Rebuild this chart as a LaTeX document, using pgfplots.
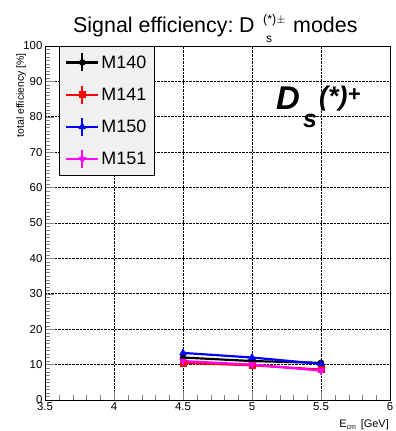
\documentclass[border=0pt]{standalone}
\usepackage{pgfplots}
\pgfplotsset{compat=1.18}
\usepackage{fontspec}
\setmainfont{Liberation Sans}
\definecolor{legfill}{RGB}{240,240,240}
\definecolor{mag}{RGB}{255,0,255}
\begin{document}
\begin{tikzpicture}[x=1bp,y=1bp]
\path[use as bounding box] (0,0) rectangle (396,431);
\begin{axis}[
  at={(45bp,31bp)}, anchor=south west,
  scale only axis, width=345bp, height=354bp,
  xmin=3.5, xmax=6, ymin=0, ymax=100,
  xtick={3.5,4,4.5,5,5.5,6},
  xticklabels={3.5,4,4.5,5,5.5,6},
  ytick={0,10,...,100},
  minor x tick num=4, minor y tick num=9,
  tick align=inside,
  xtick pos=bottom, ytick pos=left,
  major tick length=9bp, minor tick length=4.5bp,
  grid=major,
  major grid style={black, densely dotted, line width=0.6pt},
  axis line style={black, line width=0.8pt},
  /pgf/number format/assume math mode=true,
  ticklabel style={font=\fontsize{11.5}{13}\selectfont},
  xticklabel style={yshift=1bp},
  yticklabel style={xshift=1bp},
  legend style={at={(rel axis cs:0.04,1.0)}, anchor=north west,
    fill=legfill, draw=black, line width=0.8pt,
    font=\fontsize{18}{20}\selectfont, row sep=12bp,
    inner xsep=6bp, inner ysep=6bp, cells={anchor=west}},
  legend image code/.code={
    \draw[#1, mark=none] (0bp,0bp) -- (32bp,0bp);
    \draw[#1, mark=none] (16bp,-9bp) -- (16bp,9bp);
    \draw[#1] plot coordinates {(16bp,0bp)};
  },
  every axis plot/.append style={line width=2.2pt},
  error bars/y dir=both, error bars/y explicit,
  error bars/error bar style={line width=1.6pt},
  error bars/error mark=none,
  clip=false,
]
\addplot[black, mark=*, mark size=3pt, mark options={solid, line width=0.5pt}] coordinates {(4.5,12.0) +- (0,0.8) (5,11.0) +- (0,0.8) (5.5,10.5) +- (0,0.8)};
\addlegendentry{M140\hspace{20bp}}
\addplot[red, mark=square*, mark size=3pt, mark options={line width=0.5pt}] coordinates {(4.5,10.5) +- (0,1.2) (5,9.8) +- (0,0.9) (5.5,8.6) +- (0,1.0)};
\addlegendentry{M141}
\addplot[blue, mark=triangle*, mark size=4pt, mark options={line width=0.5pt}] coordinates {(4.5,13.3) +- (0,0.8) (5,12.0) +- (0,0.8) (5.5,10.2) +- (0,0.8)};
\addlegendentry{M150}
\addplot[mag, mark=triangle*, mark size=4pt, mark options={rotate=180, line width=0.5pt}] coordinates {(4.5,11.0) +- (0,0.8) (5,10.0) +- (0,0.8) (5.5,8.3) +- (0,0.9)};
\addlegendentry{M151}
\end{axis}
% title
\node[anchor=base west, inner sep=0pt] at (73,398) {\fontsize{21.5}{23}\selectfont Signal efficiency:};
\node[anchor=base west, inner sep=0pt] at (239,398) {\fontsize{21.5}{23}\selectfont D};
\node[anchor=base west, inner sep=0pt] at (266,388) {\fontsize{12}{13}\selectfont s};
\node[anchor=base west, inner sep=0pt] at (263,407) {\fontsize{12.5}{13}\selectfont (*)$\pm$};
\node[anchor=base west, inner sep=0pt] at (293,398) {\fontsize{21.5}{23}\selectfont modes};
% axis labels
\node[rotate=90, anchor=north east, inner sep=0pt] at (16,378) {\fontsize{10.5}{12}\selectfont total efficiency [\%]};
\node[anchor=base east, inner sep=0pt] at (389,4) {\fontsize{11}{12}\selectfont E\raisebox{-2.5bp}{\fontsize{7}{8}\selectfont cm}\, [GeV]};
% D_s label
\node[anchor=base west, inner sep=0pt] at (276,322) {\fontsize{33}{36}\selectfont\bfseries\itshape D};
\node[anchor=base west, inner sep=0pt] at (303,304) {\fontsize{25}{27}\selectfont\bfseries\itshape s};
\node[anchor=base west, inner sep=0pt] at (319,326) {\fontsize{27}{29}\selectfont\bfseries\itshape (*)\raisebox{4bp}{\fontsize{22}{24}\selectfont +}};
\end{tikzpicture}
\end{document}
